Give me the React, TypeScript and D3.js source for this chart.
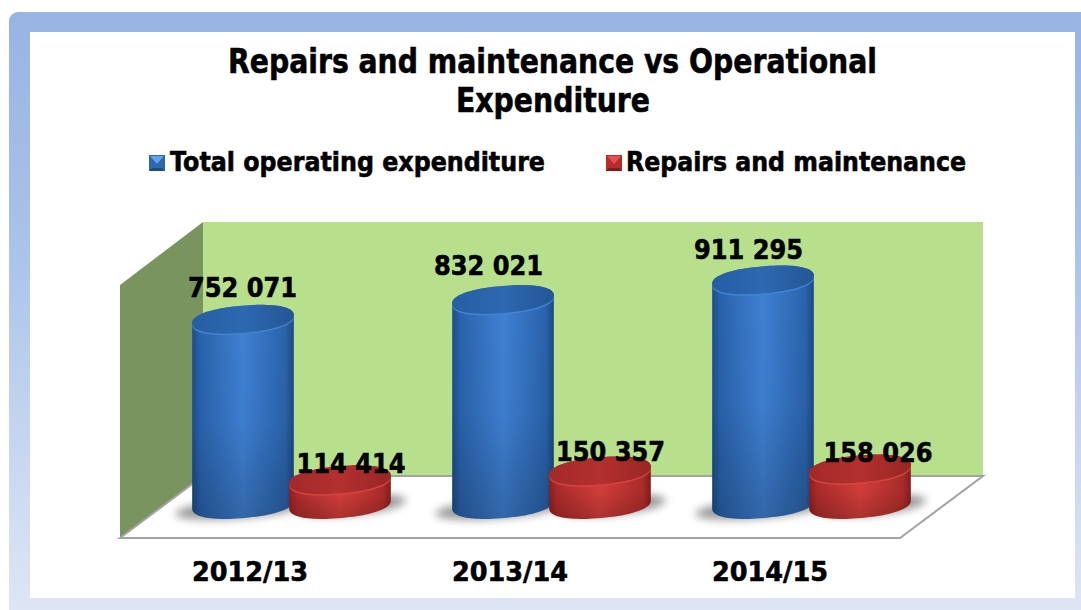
import React from "react";
import * as d3 from "d3";

const titleLines = ["Repairs and maintenance vs Operational", "Expenditure"];
const categories = ["2012/13", "2013/14", "2014/15"];
const seriesNames = ["Total operating expenditure", "Repairs and maintenance"];
const totalOpex = [752071, 832021, 911295];
const repairs = [114414, 150357, 158026];
const totalLabelShift = [0, -14, -14];
const totalLabelLift = [0, -2, 1];
const repairsLabelShift = [11, 10.5, 18];
const repairsLabelLift = [0, -3, 0];
const valueLabels = (v: number) => d3.format(",")(v).replace(/,/g, " ");

const FONT = "'DejaVu Sans', sans-serif";
const x = d3.scalePoint<string>().domain(categories).range([243, 763]);
const y = d3.scaleLinear().domain([0, 1000000]).range([505, 258]);
const RX = 51, RY = 13.5, TILT = 5, POWER = 2.25;
const tc = Math.cos((TILT * Math.PI) / 180), ts = Math.sin((TILT * Math.PI) / 180);

// rounded-ellipse outline (superellipse), slightly tilted as in the 3D cylinders
function rim(cx: number, cy: number, from: number, to: number, steps = 48): [number, number][] {
  return d3.range(steps + 1).map((k) => {
    const a = from + ((to - from) * k) / steps;
    const c = Math.cos(a), s = Math.sin(a);
    const ex = RX * Math.sign(c) * Math.pow(Math.abs(c), 2 / POWER);
    const ey = RY * Math.sign(s) * Math.pow(Math.abs(s), 2 / POWER);
    return [cx + ex * tc + ey * ts, cy - ex * ts + ey * tc];
  });
}
const lineGen = d3.line();
const ellipsePath = (cx: number, cy: number) => lineGen(rim(cx, cy, 0, 2 * Math.PI, 96)) + "Z";
const bodyPath = (cx: number, top: number, base: number) =>
  lineGen([...rim(cx, base, Math.PI, 0), ...rim(cx, top, 0, -Math.PI)]) + "Z";

function Shadow({ cx, kind }: { cx: number; kind: string }) {
  const base = y(0);
  const blue = kind === "blue";
  const sx = blue ? cx : cx + 12;
  const sy = base + (blue ? 3 : 0);
  return (
    <ellipse cx={sx} cy={sy} rx={blue ? 68 : 54} ry={10} fill="#444" opacity={0.55}
      transform={`rotate(${-TILT} ${sx} ${sy})`} filter="url(#blur)" />
  );
}

function Cylinder({ cx, value, kind }: { cx: number; value: number; kind: string }) {
  const base = y(0) - 0.5;
  const top = y(value) + (kind === "red" ? 3 : 0);
  return (
    <g>
      <path d={bodyPath(cx, top, base)} fill={`url(#${kind}Body)`} />
      <path d={bodyPath(cx, top, base)} fill="url(#vshade)" />
      <path d={ellipsePath(cx, top + 1.5)} fill={kind === "blue" ? "#4383D2" : "#D64441"} />
      <path d={ellipsePath(cx, top)} fill={`url(#${kind}Top)`} />
    </g>
  );
}

function LegendMark({ px, py, dark, light, mid }: { px: number; py: number; dark: string; light: string; mid: string }) {
  const s = 16;
  return (
    <g>
      <rect x={px} y={py} width={s} height={s} fill={mid} />
      <path d={`M${px + 1},${py + 1} L${px + s - 1},${py + 1} L${px + s / 2},${py + s / 2 + 1} Z`} fill={light} />
      <path d={`M${px},${py + s} L${px + s},${py + s} L${px + s - 3},${py + s - 3} L${px + 3},${py + s - 3} Z`} fill={dark} />
    </g>
  );
}

export default function App() {
  const Label = (props: { x: number; y: number; w: number; size: number; children: string }) => (
    <text x={props.x} y={props.y} textAnchor="middle" fontSize={props.size} textLength={props.w}
      lengthAdjust="spacingAndGlyphs" fontFamily={FONT} fontWeight={700} fill="#000" stroke="#000" strokeWidth={0.6}>{props.children}</text>
  );
  return (
    <svg width={1081} height={610} style={{ position: "absolute", left: 0, top: 0 }}>
      <defs>
        <linearGradient id="panel" x1="0" y1="0" x2="0" y2="1">
          <stop offset="0" stopColor="#98B4E3" />
          <stop offset="0.35" stopColor="#A8C1E8" />
          <stop offset="1" stopColor="#E1E8F5" />
        </linearGradient>
        <linearGradient id="blueBody" x1="0" y1="0" x2="1" y2="0">
          <stop offset="0" stopColor="#1D4C8A" />
          <stop offset="0.08" stopColor="#2A63AC" />
          <stop offset="0.5" stopColor="#3F81D4" />
          <stop offset="0.92" stopColor="#2A63AC" />
          <stop offset="1" stopColor="#1C4883" />
        </linearGradient>
        <linearGradient id="redBody" x1="0" y1="0" x2="1" y2="0">
          <stop offset="0" stopColor="#8E1F1F" />
          <stop offset="0.08" stopColor="#AE2C2B" />
          <stop offset="0.5" stopColor="#D63F3B" />
          <stop offset="0.92" stopColor="#AE2C2B" />
          <stop offset="1" stopColor="#861C1C" />
        </linearGradient>
        <linearGradient id="vshade" x1="0" y1="0" x2="0" y2="1">
          <stop offset="0" stopColor="#000" stopOpacity={0} />
          <stop offset="0.55" stopColor="#000" stopOpacity={0.03} />
          <stop offset="1" stopColor="#000" stopOpacity={0.2} />
        </linearGradient>
        <linearGradient id="blueTop" x1="0" y1="0" x2="1" y2="0">
          <stop offset="0" stopColor="#265EA4" />
          <stop offset="0.5" stopColor="#2D68B1" />
          <stop offset="1" stopColor="#245695" />
        </linearGradient>
        <linearGradient id="redTop" x1="0" y1="0" x2="1" y2="0">
          <stop offset="0" stopColor="#A22A29" />
          <stop offset="0.5" stopColor="#B3302E" />
          <stop offset="1" stopColor="#992625" />
        </linearGradient>
        <filter id="blur" x="-30%" y="-100%" width="160%" height="300%">
          <feGaussianBlur stdDeviation="4" />
        </filter>
      </defs>

      <rect x={9} y={12} width={1100} height={620} rx={9} fill="url(#panel)" />
      <rect x={30} y={32} width={1045} height={566} fill="#fff" />

      {titleLines.map((t, i) => (
        <Label key={t} x={i === 0 ? 552.5 : 553} y={73 + i * 39} w={i === 0 ? 649 : 194} size={33}>{t}</Label>
      ))}

      <LegendMark px={149} py={155} dark="#1F4A82" light="#62A2E6" mid="#2E66AE" />
      <Label x={357.5} y={171} w={375} size={26}>{seriesNames[0]}</Label>
      <LegendMark px={606} py={155} dark="#7E1B1B" light="#E5504C" mid="#B42D2B" />
      <Label x={796} y={171} w={340} size={26}>{seriesNames[1]}</Label>

      <polygon points="203,222 983,222 983,476 203,476" fill="#B8E08C" />
      <polygon points="120,285 203,222 203,476 120,538" fill="#7A9460" />
      <polygon points="120,538 203,476 983,476 900,538" fill="#fff" stroke="#A3A3A3" strokeWidth={2} />

      {categories.map((c) => (
        <g key={c}>
          <Shadow cx={x(c)!} kind="blue" />
          <Shadow cx={x(c)! + 97} kind="red" />
        </g>
      ))}
      {categories.map((c, i) => {
        const cx = x(c)!;
        return (
          <g key={c}>
            <Cylinder cx={cx} value={totalOpex[i]} kind="blue" />
            <Cylinder cx={cx + 97} value={repairs[i]} kind="red" />
          </g>
        );
      })}

      {categories.map((c, i) => {
        const cx = x(c)!;
        return (
          <g key={c}>
            <Label x={cx - 0.5 + totalLabelShift[i]} y={y(totalOpex[i]) - 22 + totalLabelLift[i]} w={109} size={26}>{valueLabels(totalOpex[i])}</Label>
            <Label x={cx + 97 + repairsLabelShift[i]} y={y(repairs[i]) - 4 + repairsLabelLift[i]} w={109} size={26}>{valueLabels(repairs[i])}</Label>
            <Label x={cx + 7} y={581} w={116} size={26}>{c}</Label>
          </g>
        );
      })}
    </svg>
  );
}
